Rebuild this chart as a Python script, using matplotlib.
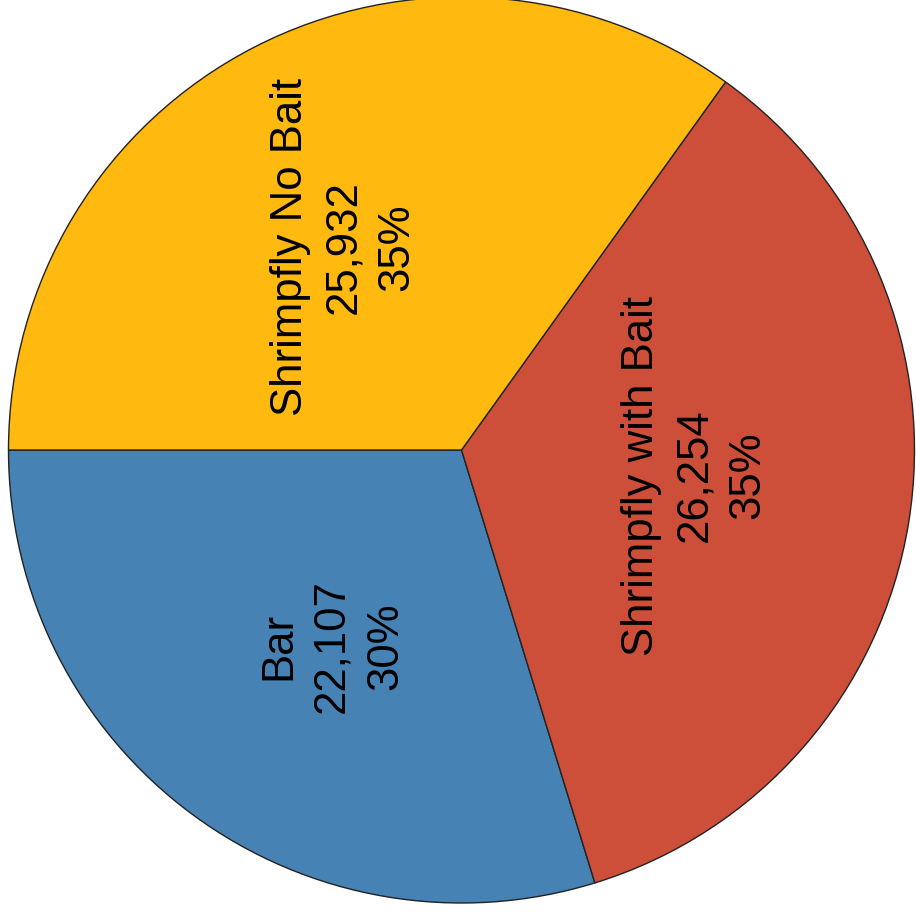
import matplotlib
matplotlib.use("Agg")
import matplotlib.pyplot as plt
import numpy as np

plt.rcParams['font.family'] = ['Liberation Sans', 'DejaVu Sans']

# data
categories = ['Bar', 'Shrimpfly with Bait', 'Shrimpfly No Bait']
counts = [22107, 26254, 25932]
colors = ['#4682B4', '#CD4F39', '#FFB90F']

total = sum(counts)
labels = [f"{c}\n{v:,}\n{round(100 * v / total)}%" for c, v in zip(categories, counts)]

fig = plt.figure(figsize=(9.16, 9.16), dpi=100)
ax = fig.add_axes([8.5 / 916, 13 / 916, 906 / 916, 906 / 916])

wedges, _ = ax.pie(counts, colors=colors, startangle=180, counterclock=True,
                   wedgeprops=dict(edgecolor='#222222', linewidth=1.0))

# labels, rotated, roughly in the middle of each slice
for w, lab in zip(wedges, labels):
    ang = np.deg2rad((w.theta1 + w.theta2) / 2 + 3.0)
    r = 0.518
    ax.text(r * np.cos(ang), r * np.sin(ang), lab, rotation=90,
            ha='center', va='center', multialignment='center',
            fontsize=31.5, linespacing=1.38, color='black')

ax.set_xlim(-1, 1)
ax.set_ylim(-1, 1)
ax.set_aspect('equal')
ax.axis('off')

fig.savefig('out.png', dpi=100)
